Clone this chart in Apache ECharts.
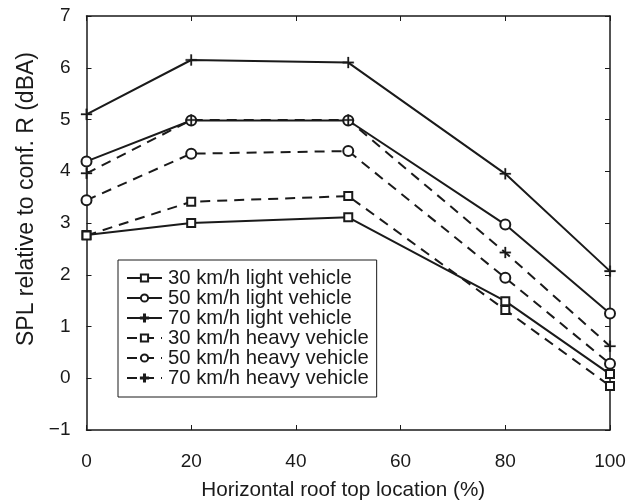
<!DOCTYPE html>
<html><head><meta charset="utf-8">
<script src="https://cdn.jsdelivr.net/npm/echarts@6/dist/echarts.min.js"></script>
<style>html,body{margin:0;padding:0;background:#fff}#c{width:630px;height:500px}</style>
</head><body><div id="c"></div>
<script>
var locations = [0, 20, 50, 80, 100];
var seriesNames = ['30 km/h light vehicle','50 km/h light vehicle','70 km/h light vehicle','30 km/h heavy vehicle','50 km/h heavy vehicle','70 km/h heavy vehicle'];
var light30 = [2.77, 3.00, 3.11, 1.49, 0.08];
var light50 = [4.19, 4.98, 4.98, 2.97, 1.25];
var light70 = [5.10, 6.15, 6.10, 3.95, 2.07];
var heavy30 = [2.76, 3.41, 3.52, 1.32, -0.15];
var heavy50 = [3.44, 4.34, 4.39, 1.94, 0.28];
var heavy70 = [3.96, 4.99, 4.99, 2.43, 0.62];
var xTicks = [0, 20, 40, 60, 80, 100];
var yTicks = [-1, 0, 1, 2, 3, 4, 5, 6, 7];

var plusPath = 'path://M4.3,0h1.4v4.3h4.3v1.4h-4.3v4.3h-1.4v-4.3h-4.3v-1.4h4.3z';
var ink = '#1a1a1a';
var font = 'Liberation Sans, Arial, sans-serif';
var values = [light30, light50, light70, heavy30, heavy50, heavy70];
var symbols = ['emptyRect','emptyCircle',plusPath,'emptyRect','emptyCircle',plusPath];
var sizes = [8, 10, 11, 8, 10, 11];

var series = values.map(function(v, i){
  var isPlus = (i % 3 === 2);
  return {
    name: seriesNames[i], type: 'line',
    data: locations.map(function(x, j){ return [x, v[j]]; }),
    symbol: symbols[i], symbolSize: sizes[i], showAllSymbol: true,
    lineStyle: {color: ink, width: 2, type: i < 3 ? 'solid' : [10, 7]},
    itemStyle: {color: ink, borderColor: ink, borderWidth: isPlus ? 0.3 : 1.8},
    emphasis: {disabled: true}, animation: false, z: 5
  };
});

var chart = echarts.init(document.getElementById('c'), null, {renderer:'canvas'});
function yfmt(v){ return v < 0 ? '\u2212' + Math.abs(v) : String(v); }
chart.setOption({
  animation: false,
  backgroundColor: '#fff',
  grid: {left: 86.5, right: 20, top: 16, bottom: 70, outerBoundsMode: 'none', containLabel: false},
  legend: {
    orient: 'vertical', left: 118, top: 260,
    data: seriesNames,
    itemWidth: 35, itemHeight: 9, itemGap: 0,
    padding: [8, 8, 9, 8],
    borderColor: ink, borderWidth: 1,
    textStyle: {fontFamily: font, fontSize: 20.3, color: ink, lineHeight: 19.6, padding: [0,0,0,1]},
    inactiveColor: ink, selectedMode: false
  },
  xAxis: [{
    type: 'value', min: 0, max: 100, interval: 20,
    name: 'Horizontal roof top location (%)', nameLocation: 'middle', nameGap: 50,
    nameTextStyle: {fontFamily: font, fontSize: 20.7, color: ink, padding: [0, 10, 0, 0]},
    axisLine: {onZero: false, lineStyle: {color: ink, width: 1.5}},
    axisTick: {inside: true, length: 5, lineStyle: {color: ink}},
    axisLabel: {fontFamily: font, fontSize: 19, color: ink, margin: 22},
    splitLine: {show: false}
  },{
    type: 'value', min: 0, max: 100, interval: 20, position: 'top',
    axisLine: {onZero: false, lineStyle: {color: ink, width: 1.5}},
    axisTick: {inside: true, length: 5, lineStyle: {color: ink}},
    axisLabel: {show: false}, splitLine: {show: false}
  }],
  yAxis: [{
    type: 'value', min: -1, max: 7, interval: 1,
    name: 'SPL relative to conf. R (dBA)', nameLocation: 'middle', nameGap: 44,
    nameTextStyle: {fontFamily: font, fontSize: 23, color: ink, padding: [0, 0, 0, 48]},
    axisLine: {onZero: false, lineStyle: {color: ink, width: 1.5}},
    axisTick: {inside: true, length: 5, lineStyle: {color: ink}},
    axisLabel: {fontFamily: font, fontSize: 19, color: ink, margin: 16, formatter: yfmt},
    splitLine: {show: false}
  },{
    type: 'value', min: -1, max: 7, interval: 1, position: 'right',
    axisLine: {show: true, onZero: false, lineStyle: {color: ink, width: 1.5}},
    axisTick: {show: true, inside: true, length: 5, lineStyle: {color: ink}},
    axisLabel: {show: false}, splitLine: {show: false}
  }],
  series: series
});
</script></body></html>
